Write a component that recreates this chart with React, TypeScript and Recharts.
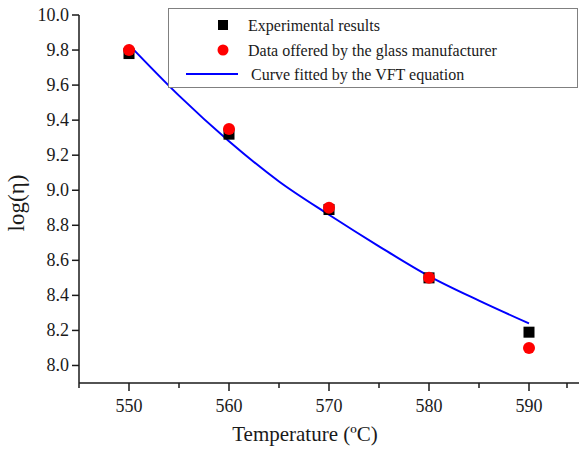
import React from 'react'
import { ComposedChart, Scatter, Line, XAxis, YAxis } from 'recharts'

const temps = [550, 560, 570, 580, 590]
const experimental = [9.78, 9.32, 8.89, 8.5, 8.19]
const manufacturer = [9.8, 9.35, 8.9, 8.5, 8.1]

const fitTemps = [550, 555, 560, 565, 570, 575, 580, 585, 590]
const fitValues = [9.83, 9.54, 9.28, 9.05, 8.86, 8.68, 8.51, 8.37, 8.24]

const xMajor = [550, 560, 570, 580, 590]
const xMinor = [545, 555, 565, 575, 585, 595]
const yMajor = [8.0, 8.2, 8.4, 8.6, 8.8, 9.0, 9.2, 9.4, 9.6, 9.8, 10.0]
const yMinor = [7.9, 8.1, 8.3, 8.5, 8.7, 8.9, 9.1, 9.3, 9.5, 9.7, 9.9]

const legendLabels = [
  'Experimental results',
  'Data offered by the glass manufacturer',
  'Curve fitted by the VFT equation',
]

const FONT = '"Liberation Serif", "Times New Roman", serif'
const INK = '#1a1a1a'

const expData = temps.map((t, i) => ({ t, v: experimental[i] }))
const mfrData = temps.map((t, i) => ({ t, v: manufacturer[i] }))
const fitData = fitTemps.map((t, i) => ({ t, v: fitValues[i] }))

function XTick(props: any) {
  const { x, y, payload } = props
  const major = xMajor.includes(payload.value)
  return (
    <g>
      <line x1={x} y1={y} x2={x} y2={y + (major ? 8 : 5)} stroke={INK} strokeWidth={1.5} />
      {major && (
        <text x={x} y={y + 23} textAnchor="middle" dominantBaseline="central" fontSize={18} fill={INK} fontFamily={FONT}>
          {payload.value}
        </text>
      )}
    </g>
  )
}

function YTick(props: any) {
  const { x, y, payload } = props
  const major = yMajor.includes(payload.value)
  return (
    <g>
      <line x1={x} y1={y} x2={x - (major ? 7 : 4)} y2={y} stroke={INK} strokeWidth={1.5} />
      {major && (
        <text x={x - 10} y={y} textAnchor="end" dominantBaseline="central" fontSize={18} fill={INK} fontFamily={FONT}>
          {payload.value.toFixed(1)}
        </text>
      )}
    </g>
  )
}

const Square = (props: any) => <rect x={props.cx - 5.5} y={props.cy - 5.5} width={11} height={11} fill="#000" />
const Dot = (props: any) => <circle cx={props.cx} cy={props.cy} r={6} fill="#ff0000" />

function LegendBox() {
  const rows = [17, 42, 66]
  return (
    <svg width={411} height={81} style={{ position: 'absolute', left: 168, top: 8 }}>
      <rect x={0.5} y={0.5} width={409} height={79} fill="#fff" stroke="#808080" strokeWidth={1} />
      <rect x={50} y={rows[0] - 5} width={10} height={10} fill="#000" />
      <circle cx={55} cy={rows[1]} r={5.5} fill="#ff0000" />
      <line x1={18} y1={rows[2]} x2={70} y2={rows[2]} stroke="#0000ff" strokeWidth={2} />
      {legendLabels.map((label, i) => (
        <text key={label} x={i === 2 ? 83 : 80} y={rows[i]} dominantBaseline="central" fontSize={16} fill={INK} fontFamily={FONT}>
          {label}
        </text>
      ))}
    </svg>
  )
}

export default function App() {
  return (
    <div style={{ position: 'absolute', left: 0, top: 0, width: 579, height: 449, background: '#fff' }}>
      <ComposedChart width={579} height={449} margin={{ top: 15, right: 0, bottom: 0, left: 0 }}>
        <XAxis
          dataKey="t"
          type="number"
          domain={[545, 595]}
          ticks={[...xMinor, ...xMajor].sort((a, b) => a - b)}
          allowDataOverflow
          height={66}
          tickSize={0}
          tickMargin={0}
          tickLine={false}
          tick={<XTick />}
          axisLine={{ stroke: INK, strokeWidth: 1.5 }}
          label={{
            content: () => (
              <text x={305} y={434} textAnchor="middle" dominantBaseline="central" fontSize={21} fill={INK} fontFamily={FONT}>
                Temperature (ºC)
              </text>
            ),
          }}
        />
        <YAxis
          dataKey="v"
          type="number"
          domain={[7.9, 10.0]}
          ticks={[...yMinor, ...yMajor].sort((a, b) => a - b)}
          allowDataOverflow
          width={79}
          tickSize={0}
          tickMargin={0}
          tickLine={false}
          tick={<YTick />}
          axisLine={{ stroke: INK, strokeWidth: 1.5 }}
          label={{
            content: () => (
              <text x={16} y={203} transform="rotate(-90 16 203)" textAnchor="middle" dominantBaseline="central" fontSize={23} fill={INK} fontFamily={FONT}>
                log(η)
              </text>
            ),
          }}
        />
        <Scatter data={expData} dataKey="v" shape={<Square />} isAnimationActive={false} />
        <Scatter data={mfrData} dataKey="v" shape={<Dot />} isAnimationActive={false} />
        <Line data={fitData} dataKey="v" type="monotone" stroke="#0000ff" strokeWidth={2} dot={false} activeDot={false} isAnimationActive={false} />
      </ComposedChart>
      <LegendBox />
    </div>
  )
}
